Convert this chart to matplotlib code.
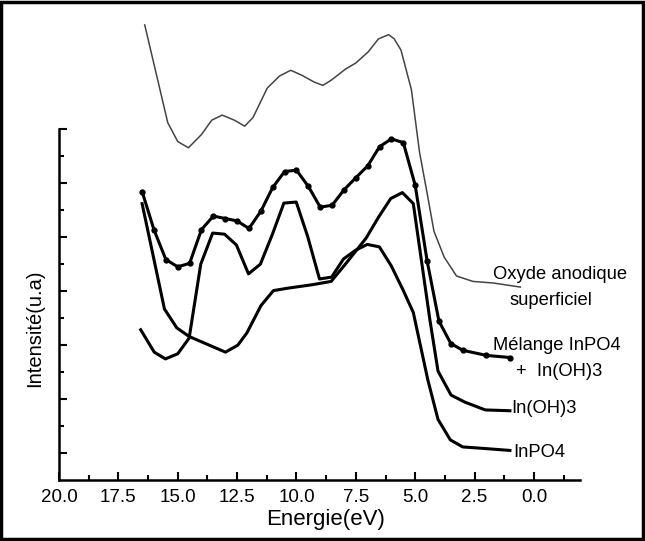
import matplotlib.pyplot as plt
from matplotlib.patches import Rectangle

plt.rcParams['font.family'] = ['Liberation Sans', 'DejaVu Sans']

# Oxyde anodique superficiel (trait fin gris)
e_oxyde = [16.39, 15.42, 15.0, 14.55, 14.0, 13.57, 13.13, 12.61, 12.18, 11.83, 11.23, 10.71,
           10.24, 9.76, 9.27, 8.89, 8.54, 7.94, 7.5, 6.98, 6.55, 6.12, 5.89, 5.6, 5.16, 4.82,
           4.47, 4.21, 3.78, 3.26, 2.57, 1.7, 0.57]
i_oxyde = [16.87, 13.25, 12.55, 12.32, 12.81, 13.34, 13.53, 13.34, 13.12, 13.44, 14.53, 14.98,
           15.19, 15.0, 14.76, 14.63, 14.82, 15.23, 15.46, 15.87, 16.35, 16.51, 16.36, 15.94, 14.47, 12.17,
           10.5, 9.23, 8.27, 7.57, 7.37, 7.31, 7.16]

# Melange InPO4 + In(OH)3 (avec points)
e_melange = [16.5, 16.0, 15.5, 15.0, 14.5, 14.0, 13.5, 13.0, 12.5, 12.0, 11.5, 11.0, 10.5, 10.0,
             9.5, 9.0, 8.5, 8.0, 7.5, 7.0, 6.5, 6.0, 5.5, 5.0, 4.5, 4.0, 3.5, 3.0, 2.0, 1.0]
i_melange = [10.70, 9.28, 8.18, 7.91, 8.04, 9.29, 9.79, 9.70, 9.61, 9.33, 9.97, 10.85, 11.44, 11.49,
             10.89, 10.12, 10.19, 10.76, 11.21, 11.65, 12.36, 12.65, 12.51, 10.93, 8.14, 5.90, 5.07, 4.82,
             4.63, 4.55]

# In(OH)3
e_oh3 = [16.5, 15.56, 15.04, 14.52, 12.99, 12.47, 12.09, 11.49, 10.97, 10.36, 9.32, 8.54, 7.94,
         7.07, 6.55, 6.03, 5.54, 5.08, 4.38, 4.04, 3.49, 2.91, 2.05, 1.01]
i_oh3 = [10.25, 6.35, 5.65, 5.33, 4.75, 5.01, 5.46, 6.48, 7.03, 7.12, 7.25, 7.37, 8.01,
         8.97, 9.74, 10.44, 10.66, 10.25, 5.94, 4.05, 3.16, 2.90, 2.61, 2.58]

# InPO4
e_po4 = [16.56, 15.99, 15.52, 15.0, 14.52, 14.03, 13.53, 13.03, 12.53, 12.02, 11.52, 11.02, 10.53,
         10.01, 9.53, 9.03, 8.52, 8.02, 7.52, 7.02, 6.51, 6.01, 5.51, 5.08, 4.47, 4.04, 3.52, 3.0,
         2.05, 1.01]
i_po4 = [5.58, 4.75, 4.50, 4.69, 5.27, 8.01, 9.16, 9.12, 8.72, 7.65, 8.01, 9.10, 10.27,
         10.31, 9.04, 7.46, 7.53, 8.20, 8.52, 8.74, 8.65, 7.95, 7.05, 6.22, 3.73, 2.26, 1.50, 1.24,
         1.18, 1.11]

x_ticks = [20.0, 17.5, 15.0, 12.5, 10.0, 7.5, 5.0, 2.5, 0.0]
x_minor = [18.75, 16.25, 13.75, 11.25, 8.75, 6.25, 3.75, 1.25, -1.25]
y_major = [1, 3, 5, 7, 9, 11, 13]
y_minor = [2, 4, 6, 8, 10, 12]

fig = plt.figure(figsize=(6.45, 5.41), dpi=100)
ax = fig.add_axes([59 / 645, 0.112, 521 / 645, 0.8734])

ax.plot(e_oxyde, i_oxyde, color='#444444', lw=1.1)
ax.plot(e_melange, i_melange, color='black', lw=2.2, marker='o', ms=3.5)
ax.plot(e_oh3, i_oh3, color='black', lw=2.2)
ax.plot(e_po4, i_po4, color='black', lw=2.2)

ax.set_xlim(20, -1.94)
ax.set_ylim(0, 17.5)

# etiquettes des courbes
ax.text(1.73, 7.63, 'Oxyde anodique', fontsize=13.2, va='center', ha='left')
ax.text(-0.72, 6.67, 'superficiel', fontsize=13.2, va='center', ha='center')
ax.text(1.73, 5.01, 'Mélange InPO4', fontsize=13.2, va='center', ha='left')
ax.text(0.76, 4.05, '+  In(OH)3', fontsize=13.2, va='center', ha='left')
ax.text(0.95, 2.65, 'In(OH)3', fontsize=13.2, va='center', ha='left')
ax.text(0.87, 1.03, 'InPO4', fontsize=13.2, va='center', ha='left')

# axes
for s in ['top', 'right']:
    ax.spines[s].set_visible(False)
ax.spines['left'].set_bounds(0, 13)
ax.spines['left'].set_linewidth(1.8)
ax.spines['bottom'].set_linewidth(1.8)

ax.set_xticks(x_ticks)
ax.set_xticklabels(['%.1f' % t for t in x_ticks])
ax.set_xticks(x_minor, minor=True)
ax.set_yticks(y_major)
ax.set_yticks(y_minor, minor=True)
ax.set_yticklabels([])
ax.tick_params(which='major', direction='in', length=6, width=1.5, labelsize=13.5, pad=6.5)
ax.tick_params(which='minor', direction='in', length=3.5, width=1.5)

fig.text(0.504, 0.039, 'Energie(eV)', fontsize=16, ha='center', va='center')
fig.text(0.054, 0.394, 'Intensité(u.a)', fontsize=14.5, ha='center', va='center', rotation=90)

# cadre autour de la figure
fig.patches.append(Rectangle((0.002, 0.003), 0.995, 0.994, transform=fig.transFigure,
                             fill=False, edgecolor='black', lw=2.5))

fig.savefig('out.png', dpi=100)
